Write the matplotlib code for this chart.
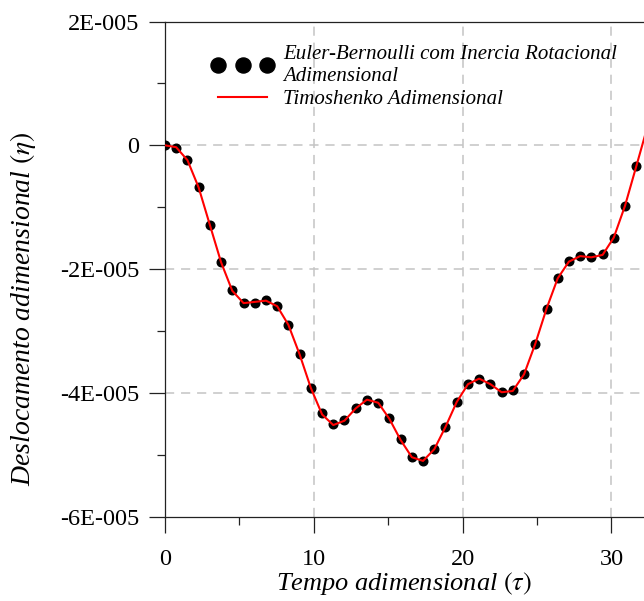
import matplotlib
matplotlib.use("Agg")
import matplotlib.pyplot as plt
from matplotlib.ticker import FixedLocator, FixedFormatter

plt.rcParams["font.family"] = ["Liberation Serif", "DejaVu Serif"]
plt.rcParams["mathtext.fontset"] = "stix"

# tempo adimensional (tau) and deslocamento (eta, in units of 1E-005)
tau_euler = [0.00, 0.75, 1.51, 2.26, 3.02, 3.77, 4.52, 5.28, 6.03, 6.79,
             7.54, 8.29, 9.05, 9.80, 10.56, 11.31, 12.06, 12.82, 13.57, 14.33,
             15.08, 15.83, 16.59, 17.34, 18.10, 18.85, 19.60, 20.36, 21.11, 21.87,
             22.62, 23.37, 24.13, 24.88, 25.64, 26.39, 27.14, 27.90, 28.65, 29.41,
             30.16, 30.91, 31.67]
eta_euler = [0.00, -0.04, -0.23, -0.68, -1.29, -1.89, -2.33, -2.54, -2.54, -2.50,
             -2.59, -2.90, -3.38, -3.92, -4.33, -4.50, -4.44, -4.25, -4.11, -4.16,
             -4.41, -4.75, -5.03, -5.10, -4.91, -4.55, -4.15, -3.86, -3.77, -3.86,
             -3.98, -3.96, -3.70, -3.21, -2.64, -2.15, -1.87, -1.79, -1.81, -1.76,
             -1.49, -0.98, -0.34]

tau_timo = [0.00, 0.75, 1.51, 2.26, 3.02, 3.77, 4.52, 5.28, 6.03, 6.79,
            7.54, 8.29, 9.05, 9.80, 10.56, 11.31, 12.06, 12.82, 13.57, 14.33,
            15.08, 15.83, 16.59, 17.34, 18.10, 18.85, 19.60, 20.36, 21.11, 21.87,
            22.62, 23.37, 24.13, 24.88, 25.64, 26.39, 27.14, 27.90, 28.65, 29.41,
            30.16, 30.91, 31.67, 32.42]
eta_timo = [0.00, -0.03, -0.24, -0.68, -1.29, -1.89, -2.35, -2.55, -2.53, -2.51,
            -2.60, -2.90, -3.38, -3.92, -4.35, -4.52, -4.45, -4.25, -4.11, -4.16,
            -4.42, -4.76, -5.04, -5.10, -4.91, -4.55, -4.15, -3.86, -3.77, -3.86,
            -3.99, -3.97, -3.70, -3.21, -2.64, -2.15, -1.88, -1.79, -1.81, -1.77,
            -1.49, -0.98, -0.34, 0.30]
SCALE = 1e-5

yticks = [-6e-5, -4e-5, -2e-5, 0, 2e-5]
ytick_labels = ["-6E-005", "-4E-005", "-2E-005", "0", "2E-005"]
xticks = [0, 10, 20, 30]

fig = plt.figure(figsize=(6.44, 6.01), dpi=100)
ax = fig.add_axes([0.2562, 0.1404, 0.7438, 0.8237])

ax.plot(tau_euler, [v * SCALE for v in eta_euler], "o", color="black", ms=6.2,
        label="Euler-Bernoulli com Inercia Rotacional\nAdimensional", zorder=3)
ax.plot(tau_timo, [v * SCALE for v in eta_timo], "-", color="red", lw=1.5,
        label="Timoshenko Adimensional", zorder=4)

ax.set_xlim(0, 32.19)
ax.set_ylim(-6e-5, 2e-5)

ax.xaxis.set_major_locator(FixedLocator(xticks))
ax.xaxis.set_minor_locator(FixedLocator([5, 15, 25]))
ax.yaxis.set_major_locator(FixedLocator(yticks))
ax.yaxis.set_major_formatter(FixedFormatter(ytick_labels))
ax.yaxis.set_minor_locator(FixedLocator([-5e-5, -3e-5, -1e-5, 1e-5]))

ax.tick_params(which="major", direction="out", length=11.5, width=0.9,
               color="#222222", labelsize=17.5, pad=7)
ax.tick_params(which="minor", direction="out", length=5.8, width=0.9,
               color="#222222")
ax.tick_params(axis="x", which="major", pad=12)

for s in ["left", "bottom", "top"]:
    ax.spines[s].set_color("#222222")
    ax.spines[s].set_linewidth(0.9)
ax.spines["right"].set_visible(False)

# dashed grid only on the interior major lines
for x in [10, 20, 30]:
    ax.axvline(x, color="#c4c4c4", lw=1.1, ls=(0, (6, 4.5)), zorder=1)
for y in [-4e-5, -2e-5, 0]:
    ax.axhline(y, color="#c4c4c4", lw=1.1, ls=(0, (6, 4.5)), zorder=1)

ax.set_xlabel(r"Tempo adimensional $(\tau)$", fontsize=19, style="italic",
              labelpad=0)
ax.set_ylabel(r"Deslocamento adimensional $(\eta)$", fontsize=20,
              style="italic")
ax.yaxis.set_label_coords(-0.266, 0.42)

leg = ax.legend(loc="upper left", bbox_to_anchor=(0.098, 0.953), frameon=False,
                fontsize=15, numpoints=3, markerscale=1.75, handlelength=2.95,
                handletextpad=0.45, borderpad=0, borderaxespad=0,
                labelspacing=0.2)
for t in leg.get_texts():
    t.set_fontstyle("italic")

fig.savefig("out.png", dpi=100)
